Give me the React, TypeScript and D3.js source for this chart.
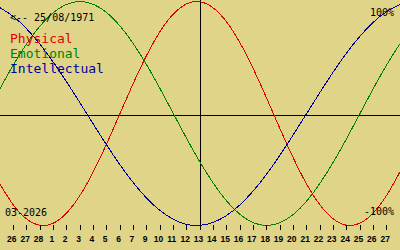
import React from "react";
import * as d3 from "d3";

const birthLabel = "<-- 25/08/1971";
const monthLabel = "03-2026";
const topLabel = "100%";
const bottomLabel = "-100%";
const seriesNames = ["Physical", "Emotional", "Intellectual"];

// day labels under ticks (as printed, no "8")
const dayLabels = [
  "26", "27", "28", "1", "2", "3", "4", "5", "6", "7", "9", "10", "11", "12", "13",
  "14", "15", "16", "17", "18", "19", "20", "21", "22", "23", "24", "25", "26", "27",
];

// values (-1..1) at each day position from left edge to right edge (31 points)
const physical = [
  -0.631, -0.817, -0.942, -0.998, -0.979, -0.888, -0.731, -0.52, -0.27, 0, 0.27, 0.52, 0.731,
  0.888, 0.979, 0.998, 0.942, 0.817, 0.631, 0.398, 0.136, -0.136, -0.398, -0.631, -0.817,
  -0.942, -0.998, -0.979, -0.888, -0.731, -0.52,
];
const emotional = [
  0.223, 0.434, 0.623, 0.782, 0.901, 0.975, 1.0, 0.975, 0.901, 0.782, 0.623, 0.434, 0.223, 0,
  -0.223, -0.434, -0.623, -0.782, -0.901, -0.975, -1.0, -0.975, -0.901, -0.782, -0.623, -0.434,
  -0.223, 0, 0.223, 0.434, 0.623,
];
const intellectual = [
  0.945, 0.866, 0.756, 0.618, 0.458, 0.282, 0.095, -0.095, -0.282, -0.458, -0.618, -0.756,
  -0.866, -0.945, -0.99, -0.999, -0.972, -0.91, -0.815, -0.69, -0.541, -0.372, -0.189, 0,
  0.189, 0.372, 0.541, 0.69, 0.815, 0.91, 0.972,
];

const W = 400;
const H = 250;
const BG = "#e0d488";
const colors = ["#e00000", "#008000", "#0000a0"];
const mono = "'DejaVu Sans Mono', monospace";

export default function App() {
  const x = d3.scaleLinear().domain([0, 30]).range([0, W]);
  const y = d3.scaleLinear().domain([-1, 1]).range([225.5, 1.5]);
  const line = d3
    .line<number>()
    .x((_, i) => x(i))
    .y((v) => y(v))
    .curve(d3.curveNatural);
  const series = [physical, emotional, intellectual];

  return (
    <svg
      width={W}
      height={H}
      style={{ position: "fixed", left: 0, top: 0, display: "block" }}
    >
      <rect x={0} y={0} width={W} height={H} fill={BG} />
      {/* mid line */}
      <line x1={0} x2={W} y1={115.5} y2={115.5} stroke="#000" strokeWidth={1} shapeRendering="crispEdges" />
      {/* today line */}
      <line x1={200.5} x2={200.5} y1={0} y2={226} stroke="#000" strokeWidth={1} shapeRendering="crispEdges" />
      {series.map((s, k) => (
        <path
          key={k}
          d={line(s) || ""}
          fill="none"
          stroke={colors[k]}
          strokeWidth={1}
          shapeRendering="crispEdges"
        />
      ))}
      {/* ticks */}
      {dayLabels.map((lab, i) => {
        const tx = Math.floor(x(i + 1)) + 0.5;
        return (
          <g key={i}>
            <line x1={tx} x2={tx} y1={225} y2={230} stroke="#000" strokeWidth={1} shapeRendering="crispEdges" />
            <text
              x={x(i + 1) - 1.5}
              y={242}
              textAnchor="middle"
              fontFamily="'Liberation Sans', Arial, sans-serif"
              fontWeight="bold"
              fontSize={8.5}
              fill="#000"
            >
              {lab}
            </text>
          </g>
        );
      })}
      <text x={10} y={20.5} fontFamily={mono} fontSize={10} fill="#000">
        {birthLabel}
      </text>
      {seriesNames.map((n, k) => (
        <text key={n} x={10} y={43 + k * 15} fontFamily={mono} fontSize={13} fill={colors[k]}>
          {n}
        </text>
      ))}
      <text x={394} y={16} textAnchor="end" fontFamily={mono} fontSize={10} fill="#000">
        {topLabel}
      </text>
      <text x={394} y={215} textAnchor="end" fontFamily={mono} fontSize={10} fill="#000">
        {bottomLabel}
      </text>
      <text x={5} y={216} fontFamily={mono} fontSize={10} fill="#000">
        {monthLabel}
      </text>
    </svg>
  );
}
